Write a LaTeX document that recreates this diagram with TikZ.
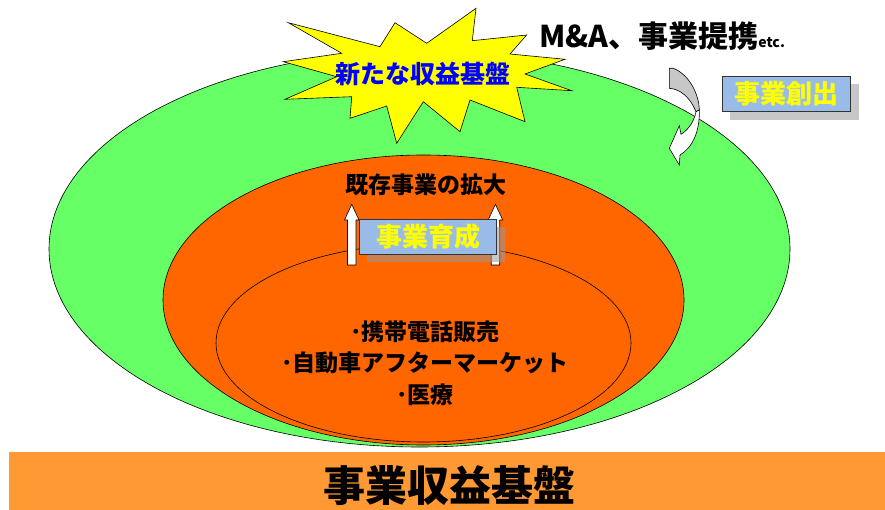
\documentclass[tikz,border=0pt]{standalone}
\usepackage{fontspec}
\newfontfamily\cjk{Noto Sans CJK JP}
\definecolor{grn}{HTML}{66FF66}
\definecolor{org}{HTML}{FF6600}
\definecolor{barc}{HTML}{FF9933}
\definecolor{boxblue}{HTML}{99BBE8}
\definecolor{txtblue}{HTML}{0000FF}
\definecolor{starc}{HTML}{FFFF00}
\begin{document}
\begin{tikzpicture}[x=1pt,y=-1pt,
  every node/.style={font=\cjk\bfseries, inner sep=0pt},
  ring/.style={draw=black, line width=0.6pt},
  labelbox/.style={draw=black!80, line width=0.8pt, fill=boxblue, text=starc,
    minimum height=35pt, font=\cjk\bfseries\fontsize{26pt}{30pt}\selectfont},
  shadowbox/.style={fill=black!40, opacity=0.55},
  innertext/.style={font=\cjk\bfseries\fontsize{23pt}{27pt}\selectfont},
  uparrow/.style={draw=black, fill=white, line width=0.6pt, line join=miter}]
\useasboundingbox (0,0) rectangle (885,510);

% ellipses
\draw[ring, fill=grn] (419.5,249) ellipse [x radius=370.5pt, y radius=198pt];
\draw[ring, fill=org] (423.5,300) ellipse [x radius=260.5pt, y radius=145pt];
\draw[ring, fill=org] (423.5,343) ellipse [x radius=207.5pt, y radius=99pt];

% starburst
\draw[fill=starc, draw=black, line width=0.6pt, line join=miter]
  (288.3,22.7) -- (380,46.7) -- (395,22.7) -- (426.7,43.3) -- (476,8.3)
  -- (472.3,40.7) -- (526.7,35) -- (510,54) -- (565,59.3) -- (525,74)
  -- (571.7,90.7) -- (516.7,87.3) -- (525,121.7) -- (470,100) -- (460,131.7)
  -- (423.3,101.7) -- (396.7,143.3) -- (386.7,106) -- (350,118.3)
  -- (351.7,96.7) -- (285,99.3) -- (336.7,76.7) -- (283.3,61.7)
  -- (341.7,53.3) -- cycle;
\node[text=txtblue, font=\cjk\bfseries\fontsize{25pt}{29pt}\selectfont] (newbase) at (423,74) {新たな収益基盤};

% M&A label
\node[anchor=base, font=\cjk\bfseries\fontsize{30pt}{34pt}\selectfont] (ma) at (662,48)
  {M\&A、事業提携{\fontsize{14pt}{16pt}\selectfont etc.}};

% curved arrow
\draw[fill=black!22, draw=black, line width=0.6pt]
  (669.3,68.3) -- (673.3,68.3) .. controls (690,75) and (699,95) .. (699.3,110)
  -- (696,111.7) .. controls (690,97) and (680,89) .. (669.3,88.3) -- cycle;
\draw[fill=white, draw=black, line width=0.6pt, line join=miter]
  (696,111.7) .. controls (694,122) and (688,130) .. (681,134.3)
  -- (679.3,125.7) -- (669.3,148.3) -- (679.3,165) -- (680,155)
  .. controls (692,148) and (700,132) .. (699.3,110) -- cycle;

% 事業創出 box
\fill[shadowbox] (730,84) rectangle (859,120);
\node[labelbox, minimum width=128pt] (create) at (786.7,93.5) {事業創出};

% 既存事業の拡大
\node[font=\cjk\bfseries\fontsize{23pt}{27pt}\selectfont] (expand) at (426,185) {既存事業の拡大};

% up arrows
\draw[uparrow] (347.5,265) -- (347.5,220) -- (344.5,220) -- (351.7,204.3)
  -- (359,220) -- (356,220) -- (356,265) -- cycle;
\draw[uparrow] (491.2,265) -- (491.2,220) -- (488.2,220) -- (495.4,204.3)
  -- (502.7,220) -- (499.7,220) -- (499.7,265) -- cycle;

% 事業育成 box
\fill[shadowbox] (367,227) rectangle (505,262);
\node[labelbox, minimum width=137.4pt] (grow) at (428,236.8) {事業育成};

% inner text
\node[innertext] (l1) at (425,331.7) {･携帯電話販売};
\node[innertext] (l2) at (425,363) {･自動車アフターマーケット};
\node[innertext] (l3) at (425,395) {･医療};

% bottom bar
\fill[barc] (9,451.5) rectangle (885,510);
\node[font=\cjk\bfseries\fontsize{42pt}{46pt}\selectfont] (base) at (449,486) {事業収益基盤};
\end{tikzpicture}
\end{document}
